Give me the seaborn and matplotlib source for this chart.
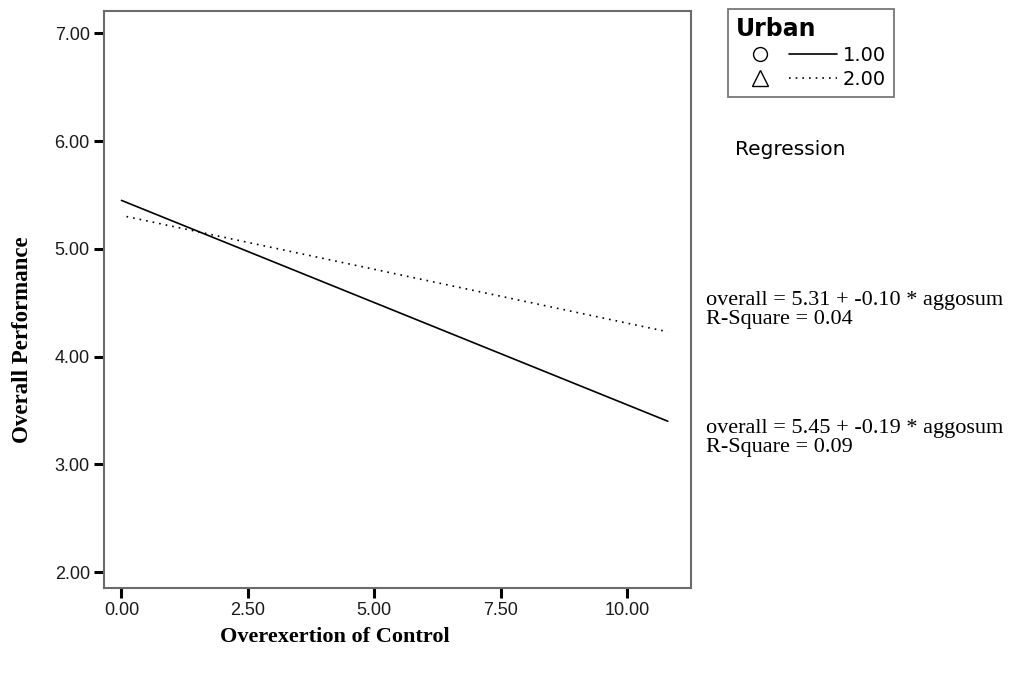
import pandas as pd
import matplotlib.pyplot as plt
import seaborn as sns
from matplotlib.lines import Line2D
from matplotlib.legend_handler import HandlerTuple

# fitted regression lines (endpoints)
urban_groups = ["1.00", "2.00"]
line_x = {"1.00": [0.0, 10.8], "2.00": [0.1, 10.8]}
line_y = {"1.00": [5.45, 3.40], "2.00": [5.30, 4.23]}
equations = ["overall = 5.31 + -0.10 * aggosum\nR-Square = 0.04",
             "overall = 5.45 + -0.19 * aggosum\nR-Square = 0.09"]
eq_y = [4.61, 3.42]

x_ticks = [0.0, 2.5, 5.0, 7.5, 10.0]
y_ticks = [2.0, 3.0, 4.0, 5.0, 6.0, 7.0]

rows = []
for g in urban_groups:
    for xv, yv in zip(line_x[g], line_y[g]):
        rows.append({"aggosum": xv, "overall": yv, "Urban": g})
df = pd.DataFrame(rows)

sns.set_style("white")
plt.rcParams.update({"text.color": "black", "axes.labelcolor": "black",
                     "xtick.color": "black", "ytick.color": "black"})
fig = plt.figure(figsize=(10.17, 6.73), dpi=100)
ax = fig.add_axes([0.102, 0.126, 0.577, 0.858])

sns.lineplot(data=df, x="aggosum", y="overall", style="Urban",
             dashes={"1.00": "", "2.00": (1, 3)}, color="black",
             linewidth=1.2, legend=False, ax=ax)

ax.set_xlim(-0.35, 11.25)
ax.set_ylim(1.85, 7.21)
ax.set_xticks(x_ticks)
ax.set_yticks(y_ticks)
ax.set_xticklabels([f"{v:.2f}" for v in x_ticks], fontsize=13,
                   family="Liberation Sans", color="#1a1a1a")
ax.set_yticklabels([f"{v:.2f}" for v in y_ticks], fontsize=13,
                   family="Liberation Sans", color="#1a1a1a")
ax.tick_params(axis="both", direction="out", length=7, width=2.2, color="black",
               bottom=True, left=True, pad=3)
for s in ax.spines.values():
    s.set_color("#6b6b6b")
    s.set_linewidth(1.5)

ax.set_xlabel("Overexertion of Control", fontsize=16, fontweight="bold",
              family="Liberation Serif")
ax.set_ylabel("Overall Performance", fontsize=16.5, fontweight="bold",
              family="Liberation Serif")
ax.xaxis.set_label_coords(0.393, -0.067)
ax.yaxis.set_label_coords(-0.121, 0.43)

# equation annotations to the right of the plot
for txt, yv in zip(equations, eq_y):
    ax.text(1.027, (yv - 1.85) / (7.21 - 1.85), txt, transform=ax.transAxes,
            fontsize=16, family="Liberation Serif", va="top", ha="left",
            linespacing=1.0)

# legend
h1 = (Line2D([], [], marker="o", color="black", linestyle="none",
             markerfacecolor="white", markersize=10),
      Line2D([], [], color="black", linestyle="-", linewidth=1.2))
h2 = (Line2D([], [], marker="^", color="black", linestyle="none",
             markerfacecolor="white", markersize=11),
      Line2D([], [], color="black", linestyle=(0, (1, 3)), linewidth=1.2))
leg = fig.legend([h1, h2], urban_groups, title="Urban",
                 handler_map={tuple: HandlerTuple(ndivide=None, pad=0.3)},
                 loc="upper left", bbox_to_anchor=(0.716, 0.986),
                 borderaxespad=0,
                 frameon=True, fancybox=False, edgecolor="#555555",
                 fontsize=14, handlelength=5.2, handletextpad=0.3,
                 borderpad=0.4, labelspacing=0.25, alignment="left")
leg.get_title().set_fontweight("bold")
leg.get_title().set_fontsize(17)
leg.get_frame().set_linewidth(1.3)

fig.text(0.723, 0.77, "Regression", fontsize=14.5, family="DejaVu Sans")

fig.savefig("out.png", dpi=100)
